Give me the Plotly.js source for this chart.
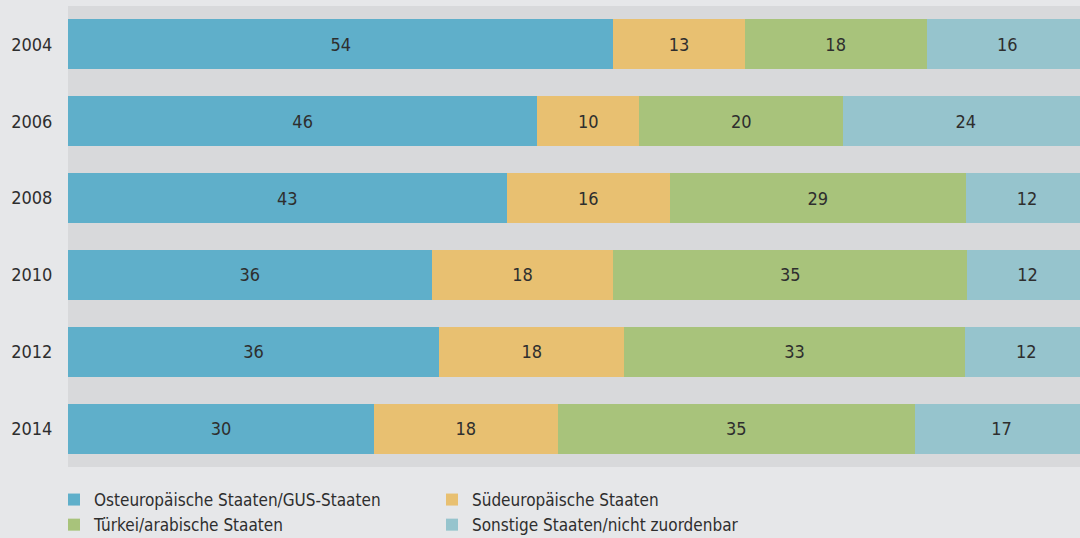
<!DOCTYPE html>
<html>
<head>
<meta charset="utf-8">
<script src="https://cdn.plot.ly/plotly-3.0.1.min.js"></script>
<style>html,body{margin:0;padding:0;background:#e6e7e9;}#chart{width:1080px;height:538px;}</style>
</head>
<body>
<div id="chart"></div>
<script>
const years = ['2004', '2006', '2008', '2010', '2012', '2014'];
const seriesNames = ['Osteuropäische Staaten/GUS-Staaten', 'Südeuropäische Staaten', 'Türkei/arabische Staaten', 'Sonstige Staaten/nicht zuordenbar'];
const osteuropa = [54, 46, 43, 36, 36, 30];
const suedeuropa = [13, 10, 16, 18, 18, 18];
const tuerkei = [18, 20, 29, 35, 33, 35];
const sonstige = [16, 24, 12, 12, 12, 17];
const colors = ['#5fafca', '#e8c071', '#a8c37b', '#96c4cd'];

const FONT = '"DejaVu Sans Condensed", "Liberation Sans Narrow", "Roboto Condensed", sans-serif';
const allSeries = [osteuropa, suedeuropa, tuerkei, sonstige];
const traces = allSeries.map((vals, i) => ({
  type: 'bar',
  orientation: 'h',
  name: seriesNames[i],
  y: years,
  x: vals,
  text: vals.map(String),
  textposition: 'inside',
  insidetextanchor: 'middle',
  textangle: 0,
  textfont: {family: FONT, size: 18, color: '#2e2e2e'},
  marker: {color: colors[i], line: {width: 0}},
  hoverinfo: 'skip'
}));

const layout = {
  width: 1080, height: 538,
  paper_bgcolor: '#e6e7e9',
  plot_bgcolor: '#d8d9db',
  barmode: 'stack',
  barnorm: 'percent',
  bargap: 0.35,
  margin: {l: 68, r: 0, t: 6, b: 71, pad: 0},
  font: {family: FONT, size: 17, color: '#2e2e2e'},
  xaxis: {range: [0, 99.2], showgrid: false, zeroline: false, showticklabels: false, ticks: '', fixedrange: true},
  yaxis: {autorange: 'reversed', showgrid: false, zeroline: false, ticks: 'outside', ticklen: 11, tickcolor: 'rgba(0,0,0,0)', tickfont: {family: FONT, size: 18, color: '#2e2e2e'}},
  showlegend: true,
  legend: {
    orientation: 'h', xref: 'container', yref: 'container',
    x: 54 / 1080, xanchor: 'left', y: 1 - 482 / 538, yanchor: 'top',
    entrywidth: 333, entrywidthmode: 'pixels',
    traceorder: 'normal',
    font: {family: FONT, size: 17, color: '#2e2e2e'},
    bgcolor: 'rgba(0,0,0,0)', itemsizing: 'constant', tracegroupgap: 0
  }
};

Plotly.newPlot('chart', traces, layout, {displayModeBar: false, staticPlot: true});
</script>
</body>
</html>
